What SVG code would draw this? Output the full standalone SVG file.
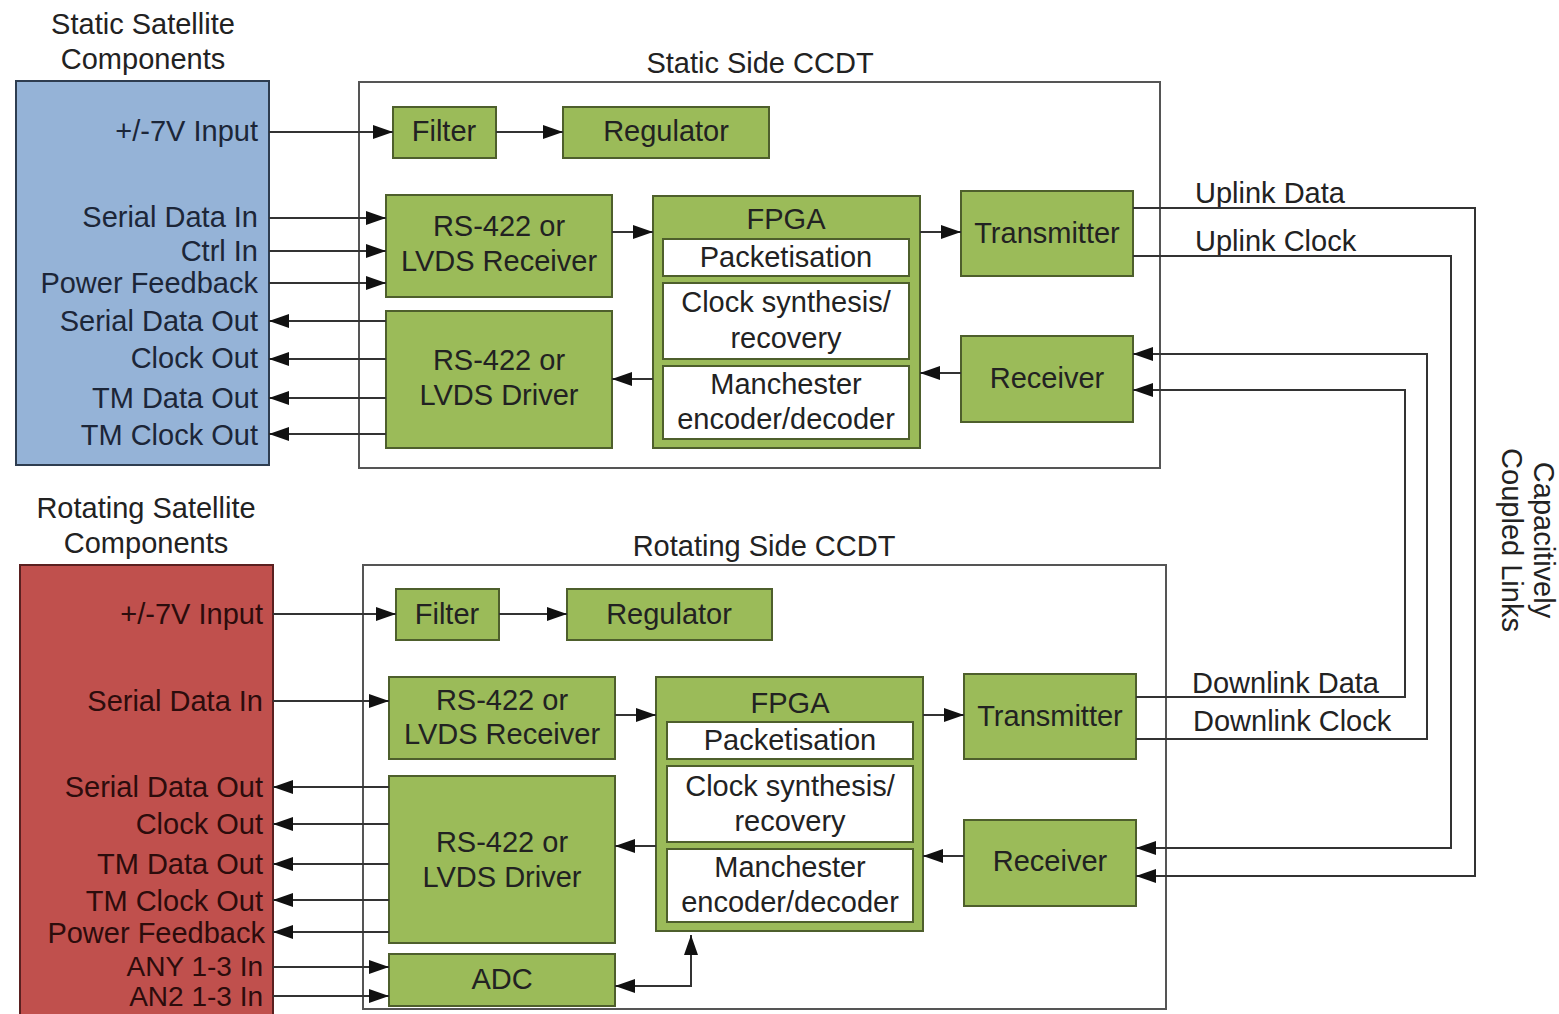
<svg xmlns="http://www.w3.org/2000/svg" width="1559" height="1014" viewBox="0 0 1559 1014">
<defs>
<marker id="ah" viewBox="0 0 20 14" refX="20" refY="7" markerWidth="20" markerHeight="14" markerUnits="userSpaceOnUse" orient="auto-start-reverse"><path d="M0,0 L20,7 L0,14 z" fill="#111"/></marker>
<style>
text{font-family:"Liberation Sans",Arial,Helvetica,sans-serif;font-size:29px;fill:#222}
.c{text-anchor:middle}
.e{text-anchor:end}
.bl{fill:#1c2638}
.rd{fill:#2c0c0c}
.sm{font-size:28px}
.g{fill:#9bbb59;stroke:#4e5f2c;stroke-width:2}
.w{fill:#fff;stroke:#4e5f2c;stroke-width:2}
.ccdt{fill:#fff;stroke:#555;stroke-width:2}
.a{fill:none;stroke:#333;stroke-width:2;marker-end:url(#ah)}
.ab{fill:none;stroke:#333;stroke-width:2;marker-end:url(#ah);marker-start:url(#ah)}
</style>
</defs>
<rect width="1559" height="1014" fill="#fff"/>

<!-- Static satellite components -->
<g id="static-components">
<text class="c" x="143" y="34">Static Satellite</text>
<text class="c" x="143" y="69">Components</text>
<rect x="16" y="81" width="253" height="384" fill="#95b3d7" stroke="#2e3d50" stroke-width="2"/>
<text class="e bl" x="258" y="141">+/-7V Input</text>
<text class="e bl" x="258" y="227">Serial Data In</text>
<text class="e bl" x="258" y="261">Ctrl In</text>
<text class="e bl" x="258" y="293">Power Feedback</text>
<text class="e bl" x="258" y="331">Serial Data Out</text>
<text class="e bl" x="258" y="368">Clock Out</text>
<text class="e bl" x="258" y="408">TM Data Out</text>
<text class="e bl" x="258" y="445">TM Clock Out</text>
</g>

<g id="static-ccdt">
<text class="c" x="760" y="73">Static Side CCDT</text>
<rect class="ccdt" x="359" y="82" width="801" height="386"/>
</g>
<g id="s-filter"><rect class="g" x="393" y="107" width="103" height="51"/><text class="c" x="444" y="141">Filter</text></g>
<g id="s-regulator"><rect class="g" x="563" y="107" width="206" height="51"/><text class="c" x="666" y="141">Regulator</text></g>
<g id="s-rx422"><rect class="g" x="386" y="195" width="226" height="102"/><text class="c" x="499" y="236">RS-422 or</text><text class="c" x="499" y="271">LVDS Receiver</text></g>
<g id="s-drv422"><rect class="g" x="386" y="311" width="226" height="137"/><text class="c" x="499" y="370">RS-422 or</text><text class="c" x="499" y="405">LVDS Driver</text></g>
<g id="s-fpga">
<rect class="g" x="653" y="196" width="267" height="252"/>
<text class="c" x="786" y="229">FPGA</text>
<rect class="w" x="663" y="239" width="246" height="37"/><text class="c" x="786" y="267">Packetisation</text>
<rect class="w" x="663" y="283" width="246" height="76"/><text class="c" x="786" y="312">Clock synthesis/</text><text class="c" x="786" y="348">recovery</text>
<rect class="w" x="663" y="366" width="246" height="73"/><text class="c" x="786" y="394">Manchester</text><text class="c" x="786" y="429">encoder/decoder</text>
</g>
<g id="s-transmitter"><rect class="g" x="961" y="191" width="172" height="85"/><text class="c" x="1047" y="243">Transmitter</text></g>
<g id="s-receiver"><rect class="g" x="961" y="336" width="172" height="86"/><text class="c" x="1047" y="388">Receiver</text></g>

<!-- Rotating satellite components -->
<g id="rotating-components">
<text class="c" x="146" y="518">Rotating Satellite</text>
<text class="c" x="146" y="553">Components</text>
<rect x="20" y="565" width="253" height="455" fill="#c0504d" stroke="#5a2020" stroke-width="2"/>
<text class="e rd" x="263" y="624">+/-7V Input</text>
<text class="e rd" x="263" y="711">Serial Data In</text>
<text class="e rd" x="263" y="797">Serial Data Out</text>
<text class="e rd" x="263" y="834">Clock Out</text>
<text class="e rd" x="263" y="874">TM Data Out</text>
<text class="e rd" x="263" y="911">TM Clock Out</text>
<text class="e rd" x="265" y="943">Power Feedback</text>
<text class="e rd sm" x="263" y="976">ANY 1-3 In</text>
<text class="e rd sm" x="263" y="1006">AN2 1-3 In</text>
</g>

<g id="rotating-ccdt">
<text class="c" x="764" y="556">Rotating Side CCDT</text>
<rect class="ccdt" x="363" y="565" width="803" height="444"/>
</g>
<g id="r-filter"><rect class="g" x="396" y="589" width="103" height="51"/><text class="c" x="447" y="624">Filter</text></g>
<g id="r-regulator"><rect class="g" x="567" y="589" width="205" height="51"/><text class="c" x="669" y="624">Regulator</text></g>
<g id="r-rx422"><rect class="g" x="389" y="677" width="226" height="82"/><text class="c" x="502" y="710">RS-422 or</text><text class="c" x="502" y="744">LVDS Receiver</text></g>
<g id="r-drv422"><rect class="g" x="389" y="776" width="226" height="167"/><text class="c" x="502" y="852">RS-422 or</text><text class="c" x="502" y="887">LVDS Driver</text></g>
<g id="r-adc"><rect class="g" x="389" y="954" width="226" height="52"/><text class="c" x="502" y="989">ADC</text></g>
<g id="r-fpga">
<rect class="g" x="656" y="677" width="267" height="254"/>
<text class="c" x="790" y="713">FPGA</text>
<rect class="w" x="667" y="722" width="246" height="37"/><text class="c" x="790" y="750">Packetisation</text>
<rect class="w" x="667" y="766" width="246" height="76"/><text class="c" x="790" y="796">Clock synthesis/</text><text class="c" x="790" y="831">recovery</text>
<rect class="w" x="667" y="849" width="246" height="73"/><text class="c" x="790" y="877">Manchester</text><text class="c" x="790" y="912">encoder/decoder</text>
</g>
<g id="r-transmitter"><rect class="g" x="964" y="674" width="172" height="85"/><text class="c" x="1050" y="726">Transmitter</text></g>
<g id="r-receiver"><rect class="g" x="964" y="820" width="172" height="86"/><text class="c" x="1050" y="871">Receiver</text></g>

<g id="link-labels">
<text x="1195" y="203">Uplink Data</text>
<text x="1195" y="251">Uplink Clock</text>
<text x="1192" y="693">Downlink Data</text>
<text x="1193" y="731">Downlink Clock</text>
<g transform="translate(1544,540) rotate(90)"><text class="c" x="0" y="10">Capacitively</text></g>
<g transform="translate(1512,540) rotate(90)"><text class="c" x="0" y="10">Coupled Links</text></g>
</g>

<g id="connectors">
<!-- static -->
<path class="a" d="M269,132 H393"/>
<path class="a" d="M496,132 H563"/>
<path class="a" d="M269,218 H386"/>
<path class="a" d="M269,251 H386"/>
<path class="a" d="M269,283 H386"/>
<path class="a" d="M386,321 H269"/>
<path class="a" d="M386,359 H269"/>
<path class="a" d="M386,398 H269"/>
<path class="a" d="M386,434 H269"/>
<path class="a" d="M612,232 H653"/>
<path class="a" d="M653,379 H612"/>
<path class="a" d="M920,232 H961"/>
<path class="a" d="M961,373 H920"/>
<!-- rotating -->
<path class="a" d="M273,614 H396"/>
<path class="a" d="M499,614 H567"/>
<path class="a" d="M273,701 H389"/>
<path class="a" d="M389,787 H273"/>
<path class="a" d="M389,824 H273"/>
<path class="a" d="M389,864 H273"/>
<path class="a" d="M389,900 H273"/>
<path class="a" d="M389,932 H273"/>
<path class="a" d="M273,967 H389"/>
<path class="a" d="M273,996 H389"/>
<path class="a" d="M615,715 H656"/>
<path class="a" d="M656,846 H615"/>
<path class="a" d="M923,715 H964"/>
<path class="a" d="M964,856 H923"/>
<path class="ab" d="M615,986 H691 V935"/>
<!-- capacitively coupled links -->
<path class="a" d="M1133,208 H1475 V876 H1136"/>
<path class="a" d="M1133,256 H1451 V848 H1136"/>
<path class="a" d="M1136,697 H1405 V390 H1133"/>
<path class="a" d="M1136,739 H1427 V354 H1133"/>
</g>
</svg>
